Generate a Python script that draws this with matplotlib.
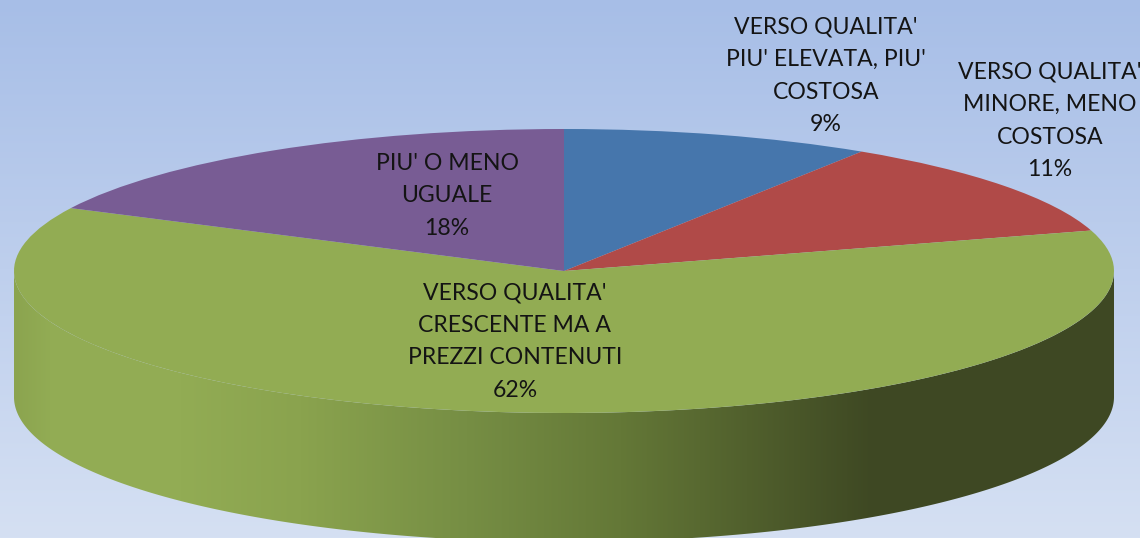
import numpy as np
import matplotlib
matplotlib.use("Agg")
import matplotlib.pyplot as plt
from matplotlib.patches import PathPatch
from matplotlib.path import Path
from matplotlib.transforms import Affine2D

# Data (labels show the rounded shares)
shares = [9.1, 11.3, 61.9, 17.7]
names = ["VERSO QUALITA'\nPIU' ELEVATA, PIU'\nCOSTOSA",
         "VERSO QUALITA'\nMINORE, MENO\nCOSTOSA",
         "VERSO QUALITA'\nCRESCENTE MA A\nPREZZI CONTENUTI",
         "PIU' O MENO\nUGUALE"]

# Style and layout
slice_colors = ["#4676AC", "#B04A48", "#92AC53", "#785C94"]
label_pos = [(826, 76), (1050, 121), (515, 341.5), (447, 196)]
W, H = 1140, 538
cx, cy, rx, ry, depth = 564, 271, 550, 142, 126
grad_x = [14, 50, 180, 300, 466, 620, 873, 1115]
grad_rgb = [(139, 164, 79), (146, 172, 84), (146, 172, 84), (138, 163, 78), (118, 142, 68),
            (100, 120, 55), (62, 72, 35), (62, 72, 35)]

plt.rcParams['font.family'] = ['Lato', 'DejaVu Sans']
fig = plt.figure(figsize=(W / 100, H / 100), dpi=100)
ax = fig.add_axes([0, 0, 1, 1])

# Background gradient
top, bottom = np.array([167, 190, 231]), np.array([213, 224, 243])
t = np.linspace(0, 1, H)[:, None, None]
ax.imshow((top + (bottom - top) * t) / 255, extent=(0, W, H, 0), aspect='auto', zorder=0)

# Side of the disc
xs = np.arange(W)
side = np.stack([np.interp(xs, grad_x, [c[i] for c in grad_rgb]) for i in range(3)], axis=1) / 255
theta = np.linspace(np.pi, 0, 400)
outline = np.concatenate([
    np.column_stack([cx + rx * np.cos(theta), cy + depth + (ry + 3) * np.sin(theta)]),
    np.column_stack([cx + rx * np.cos(theta[::-1]), cy + ry * np.sin(theta[::-1])]),
])
clip = PathPatch(Path(np.vstack([outline, outline[0]]), closed=True), fc='none', ec='none',
                 transform=ax.transData)
ax.add_patch(clip)
im = ax.imshow(side[None, :, :], extent=(0, W, H, 0), aspect='auto', zorder=1)
im.set_clip_path(clip)

# Top of the disc
wedges, _ = ax.pie(shares, colors=slice_colors, startangle=90, counterclock=False,
                   wedgeprops=dict(linewidth=0))
tf = Affine2D().scale(rx, -ry).translate(cx, cy) + ax.transData
for w in wedges:
    w.set_transform(tf)
    w.set_zorder(2)

# Labels
for name, share, (x, y) in zip(names, shares, label_pos):
    ax.text(x, y, f"{name}\n{share:.0f}%", ha='center', va='center', ma='center',
            fontsize=16.6, color='#141414', linespacing=1.68, zorder=3)

ax.set_xlim(0, W)
ax.set_ylim(H, 0)
ax.set_aspect('auto')
ax.axis('off')
fig.savefig("out.png", dpi=100)
